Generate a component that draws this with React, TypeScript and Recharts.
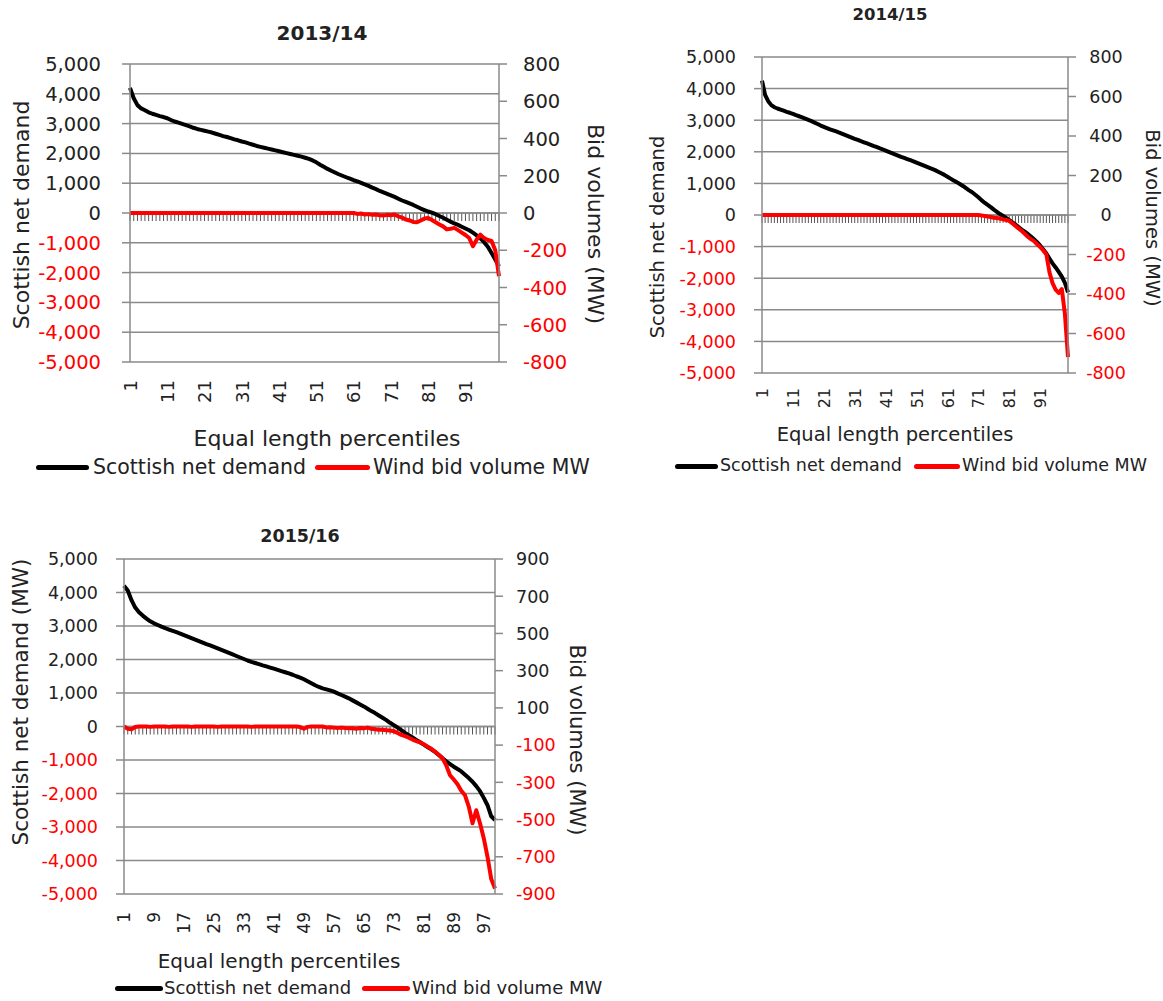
import { CartesianGrid, Line, LineChart, ReferenceLine, XAxis, YAxis } from "recharts";

const FONT = "'DejaVu Sans', sans-serif";
const DARK = "#222222";
const RED = "#ff0000";
const GRID = "#8a8a8a";

// percentile categories 1..100
const percentiles = [
	1, 2, 3, 4, 5, 6, 7, 8, 9, 10, 11, 12, 13, 14, 15, 16, 17, 18, 19, 20,
	21, 22, 23, 24, 25, 26, 27, 28, 29, 30, 31, 32, 33, 34, 35, 36, 37, 38, 39, 40,
	41, 42, 43, 44, 45, 46, 47, 48, 49, 50, 51, 52, 53, 54, 55, 56, 57, 58, 59, 60,
	61, 62, 63, 64, 65, 66, 67, 68, 69, 70, 71, 72, 73, 74, 75, 76, 77, 78, 79, 80,
	81, 82, 83, 84, 85, 86, 87, 88, 89, 90, 91, 92, 93, 94, 95, 96, 97, 98, 99, 100,
];

const demand1314 = [
	4200, 3850, 3620, 3510, 3450, 3380, 3330, 3290, 3250, 3220,
	3180, 3120, 3070, 3030, 2990, 2950, 2910, 2860, 2820, 2790,
	2760, 2730, 2700, 2660, 2620, 2580, 2550, 2510, 2470, 2440,
	2400, 2370, 2330, 2290, 2250, 2220, 2190, 2160, 2130, 2100,
	2070, 2040, 2010, 1980, 1950, 1920, 1890, 1855, 1815, 1765,
	1700, 1620, 1550, 1480, 1420, 1360, 1300, 1250, 1200, 1150,
	1100, 1060, 1010, 960, 910, 850, 800, 740, 690, 640,
	590, 540, 480, 420, 370, 320, 270, 210, 150, 100,
	50, 10, -40, -100, -160, -225, -290, -350, -400, -460,
	-520, -580, -660, -750, -850, -980, -1130, -1340, -1560, -1790,
];
const bids1314 = [
	0, 0, 0, 0, 0, 0, 0, 0, 0, 0,
	0, 0, 0, 0, 0, 0, 0, 0, 0, 0,
	0, 0, 0, 0, 0, 0, 0, 0, 0, 0,
	0, 0, 0, 0, 0, 0, 0, 0, 0, 0,
	0, 0, 0, 0, 0, 0, 0, 0, 0, 0,
	0, 0, 0, 0, 0, 0, 0, 0, 0, 0,
	0, -5, -3, -8, -6, -10, -8, -12, -14, -10,
	-12, -8, -18, -25, -35, -40, -48, -50, -40, -30,
	-27, -38, -50, -62, -72, -88, -85, -80, -92, -105,
	-118, -134, -178, -143, -116, -135, -145, -150, -200, -340,
];

const demand1415 = [
	4250, 3800, 3600, 3480, 3410, 3370, 3335, 3300, 3265, 3235,
	3200, 3160, 3125, 3090, 3050, 3010, 2970, 2925, 2880, 2830,
	2790, 2750, 2710, 2680, 2645, 2610, 2570, 2530, 2490, 2450,
	2410, 2375, 2335, 2300, 2265, 2230, 2190, 2155, 2115, 2080,
	2040, 2000, 1960, 1920, 1880, 1840, 1805, 1770, 1735, 1700,
	1660, 1620, 1580, 1540, 1500, 1460, 1420, 1370, 1320, 1270,
	1210, 1150, 1090, 1040, 980, 920, 850, 780, 720, 640,
	560, 470, 390, 320, 250, 170, 100, 30, -30, -90,
	-160, -230, -300, -380, -460, -530, -600, -680, -770, -860,
	-970, -1090, -1220, -1380, -1530, -1660, -1800, -1950, -2150, -2450,
];
const bids1415 = [
	0, 0, 0, 0, 0, 0, 0, 0, 0, 0,
	0, 0, 0, 0, 0, 0, 0, 0, 0, 0,
	0, 0, 0, 0, 0, 0, 0, 0, 0, 0,
	0, 0, 0, 0, 0, 0, 0, 0, 0, 0,
	0, 0, 0, 0, 0, 0, 0, 0, 0, 0,
	0, 0, 0, 0, 0, 0, 0, 0, 0, 0,
	0, 0, 0, 0, 0, 0, 0, 0, 0, 0,
	0, -2, -5, -8, -10, -14, -15, -18, -22, -25,
	-30, -42, -55, -68, -80, -95, -110, -122, -132, -148,
	-162, -180, -200, -290, -345, -378, -395, -375, -500, -720,
];

const demand1516 = [
	4200, 4060, 3770, 3550, 3410, 3310, 3220, 3140, 3080, 3030,
	2980, 2935, 2895, 2855, 2815, 2775, 2730, 2685, 2640, 2595,
	2550, 2505, 2460, 2420, 2375, 2330, 2285, 2240, 2195, 2150,
	2105, 2060, 2015, 1970, 1930, 1895, 1860, 1825, 1795, 1760,
	1725, 1690, 1655, 1620, 1585, 1545, 1500, 1460, 1410, 1350,
	1290, 1230, 1180, 1140, 1110, 1080, 1040, 990, 940, 890,
	840, 780, 720, 660, 600, 530, 460, 400, 330, 260,
	190, 110, 40, -30, -110, -190, -260, -330, -400, -470,
	-540, -610, -680, -760, -850, -950, -1040, -1120, -1200, -1270,
	-1340, -1440, -1540, -1650, -1780, -1930, -2130, -2350, -2680, -2790,
];
const bids1516 = [
	0, -12, -15, -3, 0, 0, 0, -2, 0, 0,
	0, 0, -2, 0, 0, 0, 0, 0, -2, 0,
	0, 0, 0, 0, 0, -2, 0, 0, 0, 0,
	0, 0, 0, 0, -2, 0, 0, 0, 0, 0,
	0, 0, 0, 0, 0, 0, 0, -3, -12, -2,
	0, 0, 0, 0, -5, -4, -6, -8, -6, -8,
	-9, -10, -12, -8, -10, -6, -12, -15, -18, -18,
	-20, -22, -25, -35, -45, -52, -60, -70, -78, -85,
	-95, -108, -120, -135, -152, -170, -210, -262, -285, -310,
	-345, -370, -430, -520, -450, -520, -600, -700, -820, -870,
];

const demandTicks = [5000, 4000, 3000, 2000, 1000, 0, -1000, -2000, -3000, -4000, -5000];
const bidTicks800 = [800, 600, 400, 200, 0, -200, -400, -600, -800];
const bidTicks900 = [900, 700, 500, 300, 100, -100, -300, -500, -700, -900];

interface Panel {
	title: string;
	demand: number[];
	bids: number[];
	bidTicks: number[];
	xInterval: number;
	leftTitle: string;
	// layout
	left: number;
	top: number;
	width: number;
	height: number;
	marginTop: number;
	leftWidth: number;
	rightWidth: number;
	xHeight: number;
	leftMargin: number;
	rightMargin: number;
	rightAnchor: "start" | "middle";
	xTickMargin: number;
	tickFont: number;
	xTickFont: number;
	titlePos: [number, number, number];
	leftTitlePos: [number, number, number];
	rightTitlePos: [number, number, number];
	xTitlePos: [number, number, number];
	legendY: number;
	legendFont: number;
	legendBlack: [number, number, number];
	legendRed: [number, number, number];
}

const panels: Panel[] = [
	{
		title: "2013/14",
		demand: demand1314,
		bids: bids1314,
		bidTicks: bidTicks800,
		xInterval: 9,
		leftTitle: "Scottish net demand",
		left: 0,
		top: 0,
		width: 620,
		height: 470,
		marginTop: 64,
		leftWidth: 130,
		rightWidth: 121,
		xHeight: 108,
		leftMargin: 21,
		rightMargin: 16,
		rightAnchor: "start",
		xTickMargin: 18,
		tickFont: 19.5,
		xTickFont: 18,
		titlePos: [322, 33, 20],
		leftTitlePos: [22, 215, 22],
		rightTitlePos: [595, 224, 22],
		xTitlePos: [327, 439, 22],
		legendY: 467,
		legendFont: 20.5,
		legendBlack: [36, 89, 93],
		legendRed: [315, 370, 373],
	},
	{
		title: "2014/15",
		demand: demand1415,
		bids: bids1415,
		bidTicks: bidTicks800,
		xInterval: 9,
		leftTitle: "Scottish net demand",
		left: 640,
		top: 0,
		width: 523,
		height: 480,
		marginTop: 57,
		leftWidth: 122,
		rightWidth: 95,
		xHeight: 107,
		leftMargin: 18,
		rightMargin: 30,
		rightAnchor: "middle",
		xTickMargin: 15,
		tickFont: 17.5,
		xTickFont: 16,
		titlePos: [890, 15, 16.5],
		leftTitlePos: [658, 237, 19.5],
		rightTitlePos: [1152, 218, 19.5],
		xTitlePos: [895, 435, 19.5],
		legendY: 466,
		legendFont: 17.5,
		legendBlack: [675, 718, 720],
		legendRed: [914, 960, 962],
	},
	{
		title: "2015/16",
		demand: demand1516,
		bids: bids1516,
		bidTicks: bidTicks900,
		xInterval: 7,
		leftTitle: "Scottish net demand (MW)",
		left: 0,
		top: 510,
		width: 620,
		height: 480,
		marginTop: 49,
		leftWidth: 124,
		rightWidth: 125,
		xHeight: 96,
		leftMargin: 18,
		rightMargin: 13,
		rightAnchor: "start",
		xTickMargin: 18,
		tickFont: 17.5,
		xTickFont: 17,
		titlePos: [300, 537, 17.5],
		leftTitlePos: [21, 702, 21.5],
		rightTitlePos: [576, 740, 21],
		xTitlePos: [279, 961, 20],
		legendY: 988,
		legendFont: 18,
		legendBlack: [115, 163, 164],
		legendRed: [362, 410, 412],
	},
];

function yTick(fontSize: number, anchor: "start" | "end" | "middle", withComma: boolean) {
	return (props: any) => {
		const { x, y, payload } = props;
		const v = payload.value as number;
		const label = withComma ? v.toLocaleString("en-US") : String(v);
		return (
			<text
				x={x}
				y={y}
				dy="0.36em"
				textAnchor={anchor}
				fontFamily={FONT}
				fontSize={fontSize}
				fill={v < 0 ? RED : DARK}
			>
				{label}
			</text>
		);
	};
}

function xTick(fontSize: number) {
	return (props: any) => {
		const { x, y, payload } = props;
		return (
			<text
				x={x}
				y={y}
				dy="0.38em"
				transform={`rotate(-90 ${x} ${y})`}
				textAnchor="end"
				fontFamily={FONT}
				fontSize={fontSize}
				fill={DARK}
			>
				{payload.value}
			</text>
		);
	};
}

// category axis crosses at 0: draw its line and one tick per category
function zeroAxis(count: number) {
	return (props: any) => {
		const { x1, x2, y1 } = props;
		const step = (x2 - x1) / (count - 1);
		const marks = [];
		for (let k = 0; k < count; k++) {
			const tx = x1 + k * step;
			marks.push(
				<line key={k} x1={tx} x2={tx} y1={y1} y2={y1 + 8} stroke="#555555" strokeWidth={1} />,
			);
		}
		return (
			<g>
				{marks}
				<line x1={x1} x2={x2} y1={y1} y2={y1} stroke={GRID} strokeWidth={1.5} />
			</g>
		);
	};
}

function Txt({
	x,
	y,
	size,
	text,
	rotate = 0,
	bold = false,
}: {
	x: number;
	y: number;
	size: number;
	text: string;
	rotate?: number;
	bold?: boolean;
}) {
	return (
		<div
			style={{
				position: "absolute",
				left: x,
				top: y,
				transform: `translate(-50%, -50%) rotate(${rotate}deg)`,
				fontFamily: FONT,
				fontSize: size,
				fontWeight: bold ? 700 : 400,
				color: DARK,
				whiteSpace: "nowrap",
				lineHeight: 1,
			}}
		>
			{text}
		</div>
	);
}

function LegendItem({ x0, x1, tx, y, size, color, text }: any) {
	return (
		<>
			<div
				style={{
					position: "absolute",
					left: x0,
					top: y - 2.5,
					width: x1 - x0,
					height: 5,
					borderRadius: 2.5,
					background: color,
				}}
			/>
			<div
				style={{
					position: "absolute",
					left: tx,
					top: y,
					transform: "translateY(-50%)",
					fontFamily: FONT,
					fontSize: size,
					color: DARK,
					whiteSpace: "nowrap",
					lineHeight: 1,
				}}
			>
				{text}
			</div>
		</>
	);
}

function DurationChart({ p }: { p: Panel }) {
	const data = percentiles.map((pc, i) => ({ pc, demand: p.demand[i], bid: p.bids[i] }));
	return (
		<>
			<div style={{ position: "absolute", left: p.left, top: p.top }}>
				<LineChart
					width={p.width}
					height={p.height}
					data={data}
					margin={{ top: p.marginTop, right: 0, bottom: 0, left: 0 }}
				>
					<CartesianGrid yAxisId="l" vertical={false} stroke={GRID} strokeWidth={1.5} />
					<XAxis
						dataKey="pc"
						interval={p.xInterval}
						height={p.xHeight}
						tickSize={0}
						tickMargin={p.xTickMargin}
						axisLine={false}
						tickLine={false}
						tick={xTick(p.xTickFont)}
					/>
					<YAxis
						yAxisId="l"
						orientation="left"
						width={p.leftWidth}
						domain={[-5000, 5000]}
						ticks={demandTicks}
						interval={0}
						tickSize={8}
						tickMargin={p.leftMargin}
						axisLine={{ stroke: GRID, strokeWidth: 1.5 }}
						tickLine={{ stroke: GRID, strokeWidth: 1.5 }}
						tick={yTick(p.tickFont, "end", true)}
					/>
					<YAxis
						yAxisId="r"
						orientation="right"
						width={p.rightWidth}
						domain={[p.bidTicks[p.bidTicks.length - 1], p.bidTicks[0]]}
						ticks={p.bidTicks}
						interval={0}
						tickSize={8}
						tickMargin={p.rightMargin}
						axisLine={{ stroke: GRID, strokeWidth: 1.5 }}
						tickLine={{ stroke: GRID, strokeWidth: 1.5 }}
						tick={yTick(p.tickFont, p.rightAnchor, false)}
					/>
					<ReferenceLine yAxisId="l" y={0} shape={zeroAxis(percentiles.length)} />
					<Line
						yAxisId="l"
						type="linear"
						dataKey="demand"
						stroke="#000000"
						strokeWidth={4}
						strokeLinejoin="round"
						dot={false}
						isAnimationActive={false}
					/>
					<Line
						yAxisId="r"
						type="linear"
						dataKey="bid"
						stroke={RED}
						strokeWidth={4}
						strokeLinejoin="round"
						dot={false}
						isAnimationActive={false}
					/>
				</LineChart>
			</div>
			<Txt x={p.titlePos[0]} y={p.titlePos[1]} size={p.titlePos[2]} text={p.title} bold />
			<Txt x={p.leftTitlePos[0]} y={p.leftTitlePos[1]} size={p.leftTitlePos[2]} text={p.leftTitle} rotate={-90} />
			<Txt x={p.rightTitlePos[0]} y={p.rightTitlePos[1]} size={p.rightTitlePos[2]} text="Bid volumes (MW)" rotate={90} />
			<Txt x={p.xTitlePos[0]} y={p.xTitlePos[1]} size={p.xTitlePos[2]} text="Equal length percentiles" />
			<LegendItem
				x0={p.legendBlack[0]}
				x1={p.legendBlack[1]}
				tx={p.legendBlack[2]}
				y={p.legendY}
				size={p.legendFont}
				color="#000000"
				text="Scottish net demand"
			/>
			<LegendItem
				x0={p.legendRed[0]}
				x1={p.legendRed[1]}
				tx={p.legendRed[2]}
				y={p.legendY}
				size={p.legendFont}
				color={RED}
				text="Wind bid volume MW"
			/>
		</>
	);
}

export default function App() {
	return (
		<div
			style={{
				position: "absolute",
				left: 0,
				top: 0,
				width: 1163,
				height: 1001,
				background: "#ffffff",
				overflow: "hidden",
			}}
		>
			{panels.map((p) => (
				<DurationChart key={p.title} p={p} />
			))}
		</div>
	);
}
